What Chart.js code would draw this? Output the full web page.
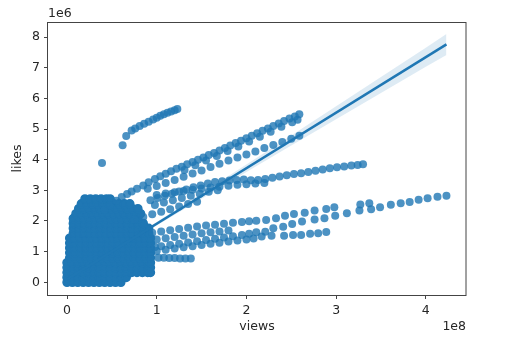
<!DOCTYPE html>
<html>
<head>
<meta charset="utf-8">
<script src="https://cdn.jsdelivr.net/npm/chart.js@4.4.0/dist/chart.umd.min.js"></script>
<style>
  html, body { margin: 0; padding: 0; background: #fff; }
</style>
</head>
<body>
<canvas id="chart" width="516" height="352"></canvas>
<script>
// values in units of 1e8 views and 1e6 likes (matching the axis offset labels)
const xTicks = [0, 1, 2, 3, 4];
const yTicks = [0, 1, 2, 3, 4, 5, 6, 7, 8];

// dense cloud near the origin: [likes, [views...]]
const blobRows = [
  [0.00, [0, .06, .12, .18, .24, .30, .36, .42, .48, .54, .60]],
  [0.16, [0, .06, .12, .18, .24, .30, .36, .42, .48, .54, .60, .66]],
  [0.32, [0, .06, .12, .18, .24, .30, .36, .42, .48, .54, .60, .66, .72, .78, .84, .90, .93]],
  [0.48, [0, .06, .12, .18, .24, .30, .36, .42, .48, .54, .60, .66, .72, .78, .84, .90, .93]],
  [0.64, [0, .06, .12, .18, .24, .30, .36, .42, .48, .54, .60, .66, .72, .78, .84, .90, .93]],
  [0.80, [.03, .09, .15, .21, .27, .33, .39, .45, .51, .57, .63, .69, .75, .81, .87, .93]],
  [0.96, [.03, .09, .15, .21, .27, .33, .39, .45, .51, .57, .63, .69, .75, .81, .87, .93]],
  [1.12, [.03, .09, .15, .21, .27, .33, .39, .45, .51, .57, .63, .69, .75, .81, .87, .93]],
  [1.28, [.03, .09, .15, .21, .27, .33, .39, .45, .51, .57, .63, .69, .75, .81, .87, .93]],
  [1.44, [.03, .09, .15, .21, .27, .33, .39, .45, .51, .57, .63, .69, .75, .81, .87, .93]],
  [1.60, [.07, .13, .19, .25, .31, .37, .43, .49, .55, .61, .67, .73, .79, .85, .91]],
  [1.76, [.07, .13, .19, .25, .31, .37, .43, .49, .55, .61, .67, .73, .79, .85, .91]],
  [1.92, [.07, .13, .19, .25, .31, .37, .43, .49, .55, .61, .67, .73, .79, .85]],
  [2.08, [.07, .13, .19, .25, .31, .37, .43, .49, .55, .61, .67, .73, .79]],
  [2.24, [.10, .16, .22, .28, .34, .40, .46, .52, .58, .64, .70, .76, .82]],
  [2.40, [.13, .19, .25, .31, .37, .43, .49, .55, .61, .67, .73, .79]],
  [2.56, [.16, .22, .28, .34, .40, .46, .52, .58, .64, .70]],
  [2.72, [.20, .26, .32, .38, .44, .48]]
];

// trending streaks: [views, likes]
const streakA = [[0.39, 3.89], [0.62, 4.47], [0.66, 4.77], [0.72, 4.95], [0.76, 5.02], [0.81, 5.10], [0.86, 5.17],
  [0.91, 5.24], [0.96, 5.31], [1.00, 5.37], [1.04, 5.43], [1.08, 5.48], [1.12, 5.53], [1.16, 5.57], [1.20, 5.61], [1.23, 5.65]];
const streakB = [[0.42, 2.36], [0.48, 2.51], [0.55, 2.66], [0.61, 2.78], [0.67, 2.88], [0.72, 2.96], [0.78, 3.05],
  [0.85, 3.16], [0.91, 3.26], [0.98, 3.37], [1.04, 3.46], [1.10, 3.54], [1.16, 3.62], [1.22, 3.70], [1.28, 3.77],
  [1.34, 3.85], [1.40, 3.92], [1.46, 4.00], [1.52, 4.07], [1.58, 4.15], [1.64, 4.22], [1.70, 4.30], [1.76, 4.38],
  [1.82, 4.46], [1.88, 4.54], [1.94, 4.62], [2.00, 4.70], [2.06, 4.78], [2.12, 4.86], [2.18, 4.94], [2.24, 5.02],
  [2.30, 5.10], [2.36, 5.18], [2.42, 5.26], [2.48, 5.34], [2.54, 5.41], [2.59, 5.48]];
const streakB2 = [[1.31, 3.66], [1.43, 3.82], [1.55, 3.97], [1.67, 4.12], [1.79, 4.28], [1.91, 4.43], [2.03, 4.59],
  [2.15, 4.75], [2.27, 4.91], [2.39, 5.07], [2.51, 5.22], [2.57, 5.30]];
const streakC = [[0.90, 3.05], [1.00, 3.14], [1.10, 3.24], [1.20, 3.34], [1.30, 3.44], [1.40, 3.55], [1.50, 3.65],
  [1.60, 3.76], [1.70, 3.87], [1.80, 3.97], [1.90, 4.07], [2.00, 4.17], [2.10, 4.27], [2.20, 4.38], [2.30, 4.48],
  [2.40, 4.58], [2.50, 4.68], [2.59, 4.78]];
const streakD = [[0.93, 2.68], [1.01, 2.75], [1.09, 2.82], [1.17, 2.89], [1.25, 2.96], [1.33, 3.03], [1.41, 3.10],
  [1.49, 3.16], [1.57, 3.22], [1.65, 3.27], [1.73, 3.30], [1.81, 3.32], [1.89, 3.34], [1.97, 3.35], [2.05, 3.33],
  [2.13, 3.34], [2.21, 3.37], [2.29, 3.41], [2.37, 3.45], [2.45, 3.49], [2.53, 3.53], [2.61, 3.56], [2.69, 3.60],
  [2.77, 3.64], [2.85, 3.68], [2.93, 3.72], [3.01, 3.75], [3.09, 3.78], [3.17, 3.81], [3.24, 3.83], [3.30, 3.85]];
const streakF = [[1.00, 2.85], [1.10, 2.90], [1.20, 2.94], [1.30, 2.98], [1.40, 3.02], [1.50, 3.06], [1.60, 3.09],
  [1.70, 3.12], [1.80, 3.15], [1.90, 3.18], [2.00, 3.20], [2.10, 3.22], [2.20, 3.24]];
const streakG = [[0.75, 2.05], [0.85, 2.13], [0.95, 2.22], [1.05, 2.30], [1.15, 2.38], [1.25, 2.47], [1.35, 2.55], [1.45, 2.63]];
const streakH = [[0.98, 2.52], [1.08, 2.60], [1.18, 2.68], [1.28, 2.75], [1.38, 2.82], [1.48, 2.89], [1.58, 2.95], [1.68, 3.00]];
const rowE1 = [[0.95, 1.62], [1.05, 1.66], [1.15, 1.70], [1.25, 1.74], [1.35, 1.78], [1.45, 1.82], [1.55, 1.85],
  [1.65, 1.88], [1.75, 1.91], [1.85, 1.94], [1.95, 1.97], [2.03, 1.99], [2.11, 2.01], [2.22, 2.03], [2.33, 2.09],
  [2.43, 2.17], [2.53, 2.23], [2.65, 2.27], [2.76, 2.34], [2.89, 2.39], [2.98, 2.45], [3.27, 2.54], [3.37, 2.58]];
const rowE2 = [[0.98, 1.15], [1.05, 1.18], [1.15, 1.22], [1.25, 1.26], [1.35, 1.30], [1.45, 1.34], [1.55, 1.38],
  [1.65, 1.42], [1.75, 1.46], [1.85, 1.50], [1.95, 1.54], [2.03, 1.58], [2.11, 1.63], [2.21, 1.65], [2.30, 1.76],
  [2.41, 1.81], [2.51, 1.90], [2.62, 1.98], [2.76, 2.05], [2.87, 2.09], [2.99, 2.17], [3.12, 2.25], [3.26, 2.34],
  [3.39, 2.38], [3.49, 2.45], [3.61, 2.53], [3.72, 2.58], [3.82, 2.62], [3.92, 2.69], [4.02, 2.74], [4.13, 2.79], [4.23, 2.82]];
const rowE3 = [[1.00, 1.02], [1.10, 1.06], [1.20, 1.10], [1.30, 1.14], [1.40, 1.18], [1.50, 1.22], [1.60, 1.26],
  [1.70, 1.29], [1.80, 1.33], [1.90, 1.36], [2.00, 1.40], [2.08, 1.43], [2.17, 1.49], [2.28, 1.52], [2.42, 1.52],
  [2.52, 1.54], [2.61, 1.54], [2.71, 1.58], [2.80, 1.60], [2.89, 1.64]];
const rowE4 = [[1.00, 1.40], [1.10, 1.44], [1.20, 1.48], [1.30, 1.52], [1.40, 1.56], [1.50, 1.60], [1.60, 1.63],
  [1.70, 1.66], [1.80, 1.69]];
const flatRow = [[1.02, 0.80], [1.08, 0.80], [1.14, 0.79], [1.20, 0.79], [1.26, 0.78], [1.32, 0.78], [1.38, 0.78]];

// regression fit and its confidence band
const lineX = [0, 4.23];
const lineY = [0.10, 7.76];
const ciX = [0, 1, 1.5, 2, 2.5, 3, 3.5, 4, 4.23];
const ciHigh = [0.14, 1.97, 2.905, 3.84, 4.79, 5.74, 6.695, 7.65, 8.096];
const ciLow = [0.06, 1.85, 2.725, 3.60, 4.46, 5.32, 6.175, 7.03, 7.416];

const blue = '#1f77b4';
const textColor = '#262626';
const spineColor = '#444';

Chart.defaults.font.family = "'DejaVu Sans', sans-serif";
Chart.defaults.font.size = 12.5;
Chart.defaults.color = textColor;

// the cloud holds thousands of overlapping points, so it reads as solid colour
const blobPoints = blobRows.flatMap(([y, xs]) => xs.map(x => ({ x, y })));
const streakPoints = [streakA, streakB, streakB2, streakC, streakD, streakF, streakG, streakH,
  rowE1, rowE2, rowE3, rowE4, flatRow].flat().map(([x, y]) => ({ x, y }));

// box round the plot area plus the matplotlib style offset labels
const framePlugin = {
  id: 'frame',
  afterDraw(chart) {
    const { ctx, chartArea: a } = chart;
    ctx.save();
    ctx.strokeStyle = spineColor;
    ctx.lineWidth = 1;
    ctx.strokeRect(Math.round(a.left) - 0.5, Math.round(a.top) + 0.5,
      Math.round(a.right - a.left) + 0.5, Math.round(a.bottom - a.top));
    ctx.fillStyle = textColor;
    ctx.font = "12.5px 'DejaVu Sans', sans-serif";
    ctx.textBaseline = 'middle';
    ctx.textAlign = 'left';
    ctx.fillText('1e6', a.left, 14);
    ctx.textAlign = 'right';
    ctx.fillText('1e8', a.right, 327);
    ctx.restore();
  }
};

new Chart(document.getElementById('chart'), {
  type: 'scatter',
  data: {
    datasets: [
      {
        type: 'line',
        data: lineX.map((x, i) => ({ x, y: lineY[i] })),
        borderColor: blue,
        borderWidth: 2.5,
        pointRadius: 0,
        fill: false,
        order: 0
      },
      {
        type: 'line',
        data: ciX.map((x, i) => ({ x, y: ciHigh[i] })),
        borderWidth: 0,
        borderColor: 'rgba(0,0,0,0)',
        pointRadius: 0,
        fill: '+1',
        backgroundColor: 'rgba(31,119,180,0.15)',
        order: 1
      },
      {
        type: 'line',
        data: ciX.map((x, i) => ({ x, y: ciLow[i] })),
        borderWidth: 0,
        borderColor: 'rgba(0,0,0,0)',
        pointRadius: 0,
        fill: false,
        order: 2
      },
      {
        data: streakPoints,
        pointBackgroundColor: 'rgba(31,119,180,0.8)',
        pointBorderWidth: 0,
        pointRadius: 4,
        order: 3
      },
      {
        data: blobPoints,
        pointBackgroundColor: blue,
        pointBorderColor: blue,
        pointBorderWidth: 1.5,
        pointRadius: 4,
        order: 4
      }
    ]
  },
  options: {
    responsive: false,
    devicePixelRatio: 1,
    animation: false,
    events: [],
    layout: { padding: { top: 22, right: 50, left: 0, bottom: 0 } },
    plugins: { legend: { display: false }, tooltip: { enabled: false } },
    scales: {
      x: {
        type: 'linear',
        min: -0.212,
        max: 4.448,
        afterBuildTicks: s => { s.ticks = xTicks.map(v => ({ value: v })); },
        afterFit: s => { s.height = 57; s.paddingLeft = 0; s.paddingRight = 0; },
        border: { display: false },
        grid: { drawOnChartArea: false, drawTicks: true, tickLength: 4, color: spineColor },
        ticks: { autoSkip: false, maxRotation: 0, padding: 4, callback: v => String(v) },
        title: { display: true, text: 'views', padding: { top: 0, bottom: 17.5 } }
      },
      y: {
        type: 'linear',
        min: -0.414,
        max: 8.49,
        afterBuildTicks: s => { s.ticks = yTicks.map(v => ({ value: v })); },
        afterFit: s => { s.width = 48; s.paddingTop = 0; s.paddingBottom = 0; },
        border: { display: false },
        grid: { drawOnChartArea: false, drawTicks: true, tickLength: 4, color: spineColor },
        ticks: { autoSkip: false, padding: 4, callback: v => String(v) },
        title: { display: true, text: 'likes', padding: { top: 10.5, bottom: 0 } }
      }
    }
  },
  plugins: [framePlugin]
});
</script>
</body>
</html>
